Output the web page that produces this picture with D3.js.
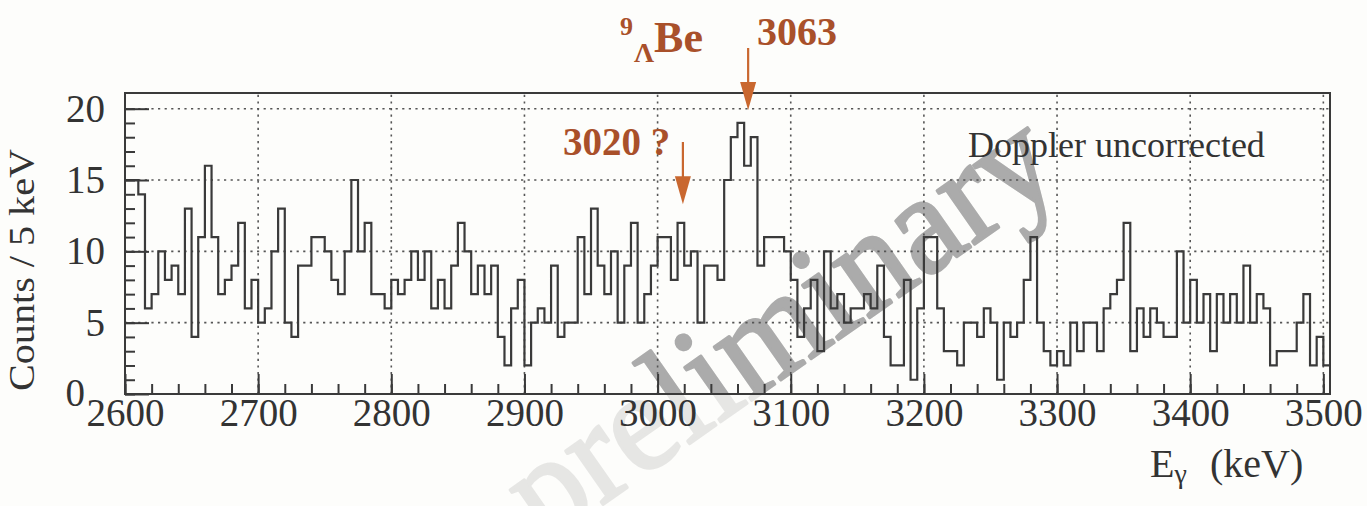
<!DOCTYPE html>
<html><head><meta charset="utf-8">
<script src="https://cdn.jsdelivr.net/npm/d3@7"></script>
<style>
html,body{margin:0;padding:0;background:#fdfdfb;}
svg{display:block;}
text{font-family:"Liberation Serif","DejaVu Serif",serif;}
</style></head>
<body><svg id="chart" width="1367" height="506"></svg>
<script>
// ---- data (counts per 5 keV bin, starting at 2600 keV) ----
const binStart = 2600;
const binWidth = 5;
const counts = [
  15,15,14,6,7,10,8,9,7,13, 4,11,16,11,7,8,9,12,6,8,      // 2600-2700
  5,6,10,13,5,4,9,9,11,11, 10,8,7,10,15,10,12,7,7,6,      // 2700-2800
  8,7,8,10,8,10,6,8,6,9, 12,10,7,9,7,9,4,2,6,8,           // 2800-2900
  2,5,6,5,9,4,5,5,11,7, 13,9,7,10,5,9,12,5,7,9,           // 2900-3000
  11,11,8,12,9,10,5,9,9,8, 15,18,19,16,18,9,11,11,11,10,  // 3000-3100
  8,4,6,8,3,10,6,7,5,6, 6,7,6,9,4,2,2,8,1,6,              // 3100-3200
  11,11,6,3,3,2,5,5,4,6, 5,1,5,4,5,8,11,5,3,2,            // 3200-3300
  3,2,5,3,5,5,3,6,7,8, 12,3,6,4,6,5,4,4,10,5,             // 3300-3400
  8,5,7,3,7,5,7,5,9,5, 7,6,2,3,3,3,5,7,2,4,               // 3400-3500
  2                                                       // 3500-3505
];
const xTickValues = [2600,2700,2800,2900,3000,3100,3200,3300,3400,3500];
const xMinorValues = d3.range(2600, 3501, 20);
const yTickValues = [0,5,10,15,20];
const yMinorValues = d3.range(0, 21, 1);
const xDomain = [2600, 3505];
const yDomain = [0, 21.1];
// annotation arrows
const peakLabels = ["3063", "3020 ?"];
const arrowAt = [3068, 3019];
const arrowTipCount = [19.9, 13.3];

const svg = d3.select("#chart");
const L = 125, R = 1330, T = 93, B = 394;

const x = d3.scaleLinear().domain(xDomain).range([L, R]);
const y = d3.scaleLinear().domain(yDomain).range([B, T]);

svg.append("defs").append("clipPath").attr("id", "plotclip")
  .append("rect").attr("x", L).attr("y", T).attr("width", R - L).attr("height", B - T);

// ---- watermark (lighter outside the frame, darker inside) ----
function watermark(g, col) {
  g.append("text")
    .attr("transform", "translate(545,545) rotate(-35)")
    .attr("font-size", 142)
    .attr("fill", col)
    .attr("stroke", col).attr("stroke-width", 3).attr("stroke-linejoin", "round")
    .attr("textLength", 635)
    .attr("lengthAdjust", "spacingAndGlyphs")
    .text("preliminary");
}
watermark(svg.append("g"), "#e6e6e4");
watermark(svg.append("g").attr("clip-path", "url(#plotclip)"), "#ababab");

const ink = "#3a3a3a";

// ---- grid ----
const grid = svg.append("g").attr("stroke", "#555").attr("stroke-width", 1.6)
  .attr("stroke-dasharray", "2.2,4.4");
grid.selectAll("line.gx").data(xTickValues.slice(1)).join("line")
  .attr("x1", d => x(d)).attr("x2", d => x(d)).attr("y1", B).attr("y2", T);
grid.selectAll("line.gy").data(yTickValues.slice(1)).join("line")
  .attr("y1", d => y(d)).attr("y2", d => y(d)).attr("x1", L).attr("x2", R);

// ---- histogram ----
const pts = counts.map((c, i) => [binStart + i * binWidth, c]);
pts.push([binStart + counts.length * binWidth, counts[counts.length - 1]]);
const line = d3.line().x(d => x(d[0])).y(d => y(d[1])).curve(d3.curveStepAfter);
svg.append("path").attr("d", line(pts)).attr("fill", "none")
  .attr("stroke", ink).attr("stroke-width", 2.2);

// ---- axes ----
const fmt = d3.format("d");
const xAxis = svg.append("g").attr("transform", `translate(0,${B})`)
  .call(d3.axisBottom(x).tickValues(xTickValues).tickFormat(fmt).tickSizeInner(-20).tickSizeOuter(0).tickPadding(4));
const xMinor = svg.append("g").attr("transform", `translate(0,${B})`)
  .call(d3.axisBottom(x).tickValues(xMinorValues).tickSizeInner(-10).tickSizeOuter(0).tickFormat(""));
const yAxis = svg.append("g").attr("transform", `translate(${L},0)`)
  .call(d3.axisLeft(y).tickValues(yTickValues).tickFormat(fmt).tickSizeInner(-24).tickSizeOuter(0).tickPadding(20));
const yMinor = svg.append("g").attr("transform", `translate(${L},0)`)
  .call(d3.axisLeft(y).tickValues(yMinorValues).tickSizeInner(-10).tickSizeOuter(0).tickFormat(""));
[xAxis, xMinor, yAxis, yMinor].forEach(g => {
  g.select(".domain").remove();
  g.selectAll(".tick line").attr("stroke", ink).attr("stroke-width", 2);
  g.selectAll("text").attr("font-family", "Liberation Serif").attr("font-size", 39).attr("fill", "#333");
});
yAxis.selectAll(".tick text").filter(d => d === 0).attr("dx", -20).attr("dy", "0.3em");

// ---- frame ----
svg.append("rect").attr("x", L).attr("y", T).attr("width", R - L).attr("height", B - T)
  .attr("fill", "none").attr("stroke", ink).attr("stroke-width", 2);

// ---- axis titles ----
svg.append("text").attr("transform", "translate(34,270) rotate(-90)")
  .attr("text-anchor", "middle").attr("font-size", 36).attr("fill", "#333")
  .attr("textLength", 242).attr("lengthAdjust", "spacingAndGlyphs")
  .text("Counts / 5 keV");
const xt = svg.append("text").attr("x", 1150).attr("y", 477).attr("font-size", 40).attr("fill", "#333");
xt.append("tspan").text("E");
xt.append("tspan").attr("font-size", 28).attr("dy", 6).text("γ");
xt.append("tspan").attr("x", 1210).attr("dy", -6).text("(keV)");

svg.append("text").attr("x", 968).attr("y", 157).attr("font-size", 36).attr("fill", "#333")
  .text("Doppler uncorrected");

// ---- annotations ----
const acol = "#a9502a", arrowCol = "#c9672f";
const hyp = svg.append("text").attr("x", 620).attr("y", 52).attr("font-weight", "bold")
  .attr("fill", acol).attr("font-size", 44);
hyp.append("tspan").attr("font-size", 26).attr("dy", -17).text("9");
hyp.append("tspan").attr("font-size", 28).attr("dy", 27).attr("dx", 1).text("Λ");
hyp.append("tspan").attr("dy", -10).text("Be");

svg.append("text").attr("x", 757).attr("y", 45).attr("font-size", 40).attr("font-weight", "bold")
  .attr("fill", acol).text(peakLabels[0]);
svg.append("text").attr("x", 563).attr("y", 155).attr("font-size", 39).attr("font-weight", "bold")
  .attr("fill", acol).text(peakLabels[1]);

const arrowTop = [48, 142];
arrowAt.forEach((a, i) => {
  const ax = x(a), tip = y(arrowTipCount[i]);
  svg.append("line").attr("x1", ax).attr("x2", ax).attr("y1", arrowTop[i]).attr("y2", tip - 20)
    .attr("stroke", arrowCol).attr("stroke-width", 2.2);
  svg.append("path").attr("d", `M${ax - 8},${tip - 28}L${ax + 8},${tip - 28}L${ax},${tip}Z`)
    .attr("fill", arrowCol);
});
</script></body></html>
